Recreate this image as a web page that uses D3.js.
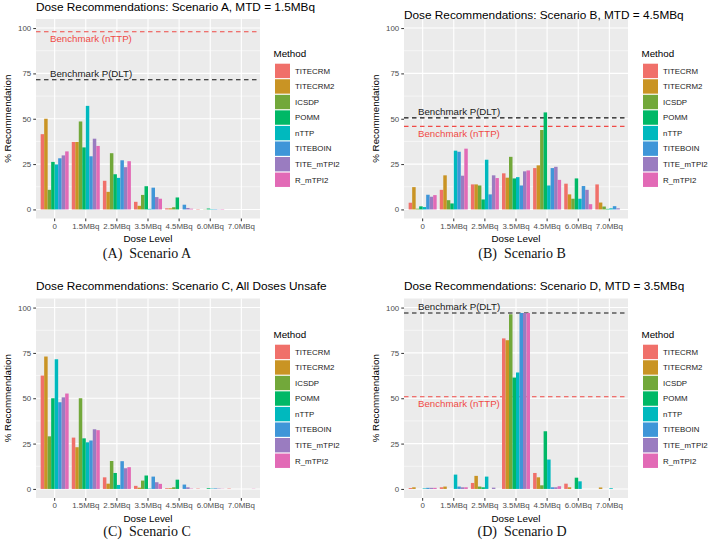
<!DOCTYPE html>
<html>
<head>
<meta charset="utf-8">
<script src="https://cdn.jsdelivr.net/npm/d3@7"></script>
<style>
html,body{margin:0;padding:0;background:#fff;}
svg{display:block;}
</style>
</head>
<body>
<svg id="chart" width="709" height="546" font-family='"Liberation Sans",Arial,Helvetica,sans-serif'></svg>
<script>
// ---------- data ----------
const doses = ["0","1.5MBq","2.5MBq","3.5MBq","4.5MBq","6.0MBq","7.0MBq"];
const methods = ["TITECRM","TITECRM2","ICSDP","POMM","nTTP","TITEBOIN","TITE_mTPI2","R_mTPI2"];
const methodColors = ["#F0706A","#C99424","#72A83A","#00B866","#00B9BE","#3F96D8","#9A7CC0","#E26AB6"];
const yTicks = [0,25,50,75,100];

const titles = [
  "Dose Recommendations: Scenario A, MTD = 1.5MBq",
  "Dose Recommendations: Scenario B, MTD = 4.5MBq",
  "Dose Recommendations: Scenario C, All Doses Unsafe",
  "Dose Recommendations: Scenario D, MTD = 3.5MBq"
];
const captions = ["(A)  Scenario A","(B)  Scenario B","(C)  Scenario C","(D)  Scenario D"];

// values[method][dose]
const valuesA = [
  [41.5,37.2,15.8,4.2,0.6,0.2,0],
  [50,37.2,9.7,2,0.6,0,0],
  [10.8,48.5,31,8,1.2,0.1,0],
  [26.2,34.2,19.4,12.8,6.6,0.5,0],
  [24.8,57.1,17.4,0.3,0,0.2,0],
  [28.2,29.3,27.1,12,2.6,0.2,0],
  [29.8,39,23.3,6.8,0.8,0.1,0],
  [32,35,26.6,5.9,0.4,0.2,0]
];
const valuesB = [
  [3.7,10.8,13.8,19.9,22.8,14.2,13.8],
  [12.3,18.8,13.8,17.5,24.3,8.3,3.8],
  [0.4,5.1,13.2,29,43.8,5.9,1.6],
  [1.7,3.3,5.5,17.1,53.5,17.1,0.3],
  [1.3,32.4,27.4,17.8,13.2,5.9,0.6],
  [8.1,31.8,8.3,13.2,22.8,12.9,1.8],
  [7,18.6,18.8,21,23.5,10.8,0.6],
  [7.9,33.5,17.3,21.5,16.3,2.9,0]
];
const valuesC = [
  [62.5,28.3,6.4,1.7,0.4,0.2,0.2],
  [73,23,2.9,0.7,0.4,0,0],
  [29,50,15.4,4.6,0.9,0,0],
  [50,27.9,8.8,7.4,5.1,0.4,0],
  [71.5,25.7,2.2,0.2,0,0.2,0],
  [47.8,26.7,15.3,6.8,2.4,0.3,0],
  [50.5,32.9,11.4,3.7,0.9,0.2,0],
  [52.6,32.4,12,2.8,0.2,0.1,0.1]
];
const valuesD = [
  [0.5,0.9,3.3,83,8.8,2.9,0],
  [0.9,1.3,7.2,82,6.4,0.9,0.8],
  [0,0,1.3,96.3,2,0,0],
  [0,0,0.9,61.4,31.8,6.2,0],
  [0.3,7.9,6.8,64.2,16.2,4.2,0.4],
  [0.6,1.3,0,97,0.9,0,0],
  [0.6,0.9,0.7,97,0.9,0,0],
  [0.6,0.9,0,97,1.5,0,0]
];
// benchmark lines (null = none)
const benchDLT  = [71.5, 50.5, null, 97];
const benchNTTP = [98, 45.8, null, 50.8];

// ---------- layout ----------
const panels = [
  {vals: valuesA, left: 36,  right: 260, top: 19,    bottom: 218.5, titleY: 11,  capX: 147, capY: 258, legX: 275, legY: 0},
  {vals: valuesB, left: 404, right: 628, top: 19,    bottom: 218.5, titleY: 18.5,capX: 522, capY: 258, legX: 643, legY: 0},
  {vals: valuesC, left: 36,  right: 260, top: 298.5, bottom: 498,   titleY: 290, capX: 147, capY: 536, legX: 275, legY: 281},
  {vals: valuesD, left: 404, right: 628, top: 298.5, bottom: 498,   titleY: 290, capX: 522, capY: 536, legX: 643, legY: 281}
];

const svg = d3.select("#chart");
const sans = '"Liberation Sans",Arial,Helvetica,sans-serif';

panels.forEach((p, pi) => {
  const g = svg.append("g");
  const x = d3.scaleBand().domain(doses).range([p.left, p.right]).paddingInner(0.1).paddingOuter(0.15);
  const xm = d3.scaleBand().domain(methods).range([0, x.bandwidth()]).padding(0);
  const xc = d3.scaleLinear().domain([0.4, 7.6]).range([p.left, p.right]);
  const y = d3.scaleLinear().domain([-5, 105]).range([p.bottom, p.top]);

  // panel background
  g.append("rect").attr("x", p.left).attr("y", p.top)
    .attr("width", p.right - p.left).attr("height", p.bottom - p.top).attr("fill", "#EBEBEB");
  // minor grid
  g.selectAll(".minor").data([12.5,37.5,62.5,87.5]).enter().append("line")
    .attr("x1", p.left).attr("x2", p.right).attr("y1", d => y(d)).attr("y2", d => y(d))
    .attr("stroke", "#fff").attr("stroke-width", 0.55);
  // major grid
  g.selectAll(".majory").data(yTicks).enter().append("line")
    .attr("x1", p.left).attr("x2", p.right).attr("y1", d => y(d)).attr("y2", d => y(d))
    .attr("stroke", "#fff").attr("stroke-width", 1.1);
  g.selectAll(".majorx").data(doses).enter().append("line")
    .attr("x1", d => x(d) + x.bandwidth()/2).attr("x2", d => x(d) + x.bandwidth()/2)
    .attr("y1", p.top).attr("y2", p.bottom)
    .attr("stroke", "#fff").attr("stroke-width", 1.1);

  // benchmark lines and labels
  const bench = [];
  if (benchNTTP[pi] !== null) bench.push({v: benchNTTP[pi], col: "#F04A46", tcol: "#F04A46", label: "Benchmark (nTTP)", off: -4});
  if (benchDLT[pi] !== null) bench.push({v: benchDLT[pi], col: "#111", tcol: "#1a1a1a", label: "Benchmark P(DLT)", off: 3.4});
  bench.forEach(b => {
    g.append("line").attr("x1", p.left).attr("x2", p.right)
      .attr("y1", y(b.v)).attr("y2", y(b.v))
      .attr("stroke", b.col).attr("stroke-width", 1.1).attr("stroke-dasharray", "4.5,3.5");
    g.append("text").attr("x", xc(0.85)).attr("y", y(b.v + b.off)).attr("dy", "0.35em")
      .attr("font-size", 9.7).attr("fill", b.tcol).text(b.label);
  });

  // bars
  methods.forEach((m, mi) => {
    g.append("g").selectAll("rect").data(doses).enter().append("rect")
      .attr("x", d => x(d) + xm(m))
      .attr("width", xm.bandwidth())
      .attr("y", (d, di) => y(p.vals[mi][di]))
      .attr("height", (d, di) => y(0) - y(p.vals[mi][di]))
      .attr("fill", methodColors[mi]);
  });

  // axes
  const yAxis = d3.axisLeft(y).tickValues(yTicks).tickSize(2.75).tickPadding(2);
  const ya = g.append("g").attr("transform", `translate(${p.left},0)`).call(yAxis);
  const xAxis = d3.axisBottom(x).tickSize(2.75).tickPadding(2);
  const xa = g.append("g").attr("transform", `translate(0,${p.bottom})`).call(xAxis);
  [ya, xa].forEach(a => {
    a.attr("font-family", sans);
    a.select(".domain").remove();
    a.selectAll(".tick line").attr("stroke", "#333").attr("stroke-width", 1);
    a.selectAll(".tick text").attr("fill", "#4D4D4D").attr("font-size", 7.9);
  });

  // titles
  g.append("text").attr("x", p.left).attr("y", p.titleY).attr("font-size", 11.8).attr("fill", "#000").text(titles[pi]);
  g.append("text").attr("x", (p.left + p.right)/2).attr("y", p.bottom + 23.5)
    .attr("text-anchor", "middle").attr("font-size", 9.8).text("Dose Level");
  g.append("text").attr("transform", `translate(${p.left - 28.5},${(p.top + p.bottom)/2}) rotate(-90)`)
    .attr("text-anchor", "middle").attr("dy", "0.35em").attr("font-size", 9.8).text("% Recommendation");

  // legend
  const lg = g.append("g").attr("transform", `translate(${p.legX},${p.legY})`);
  lg.append("text").attr("x", -1.5).attr("y", 56.8).attr("font-size", 9.8).text("Method");
  methods.forEach((m, mi) => {
    lg.append("rect").attr("x", 0).attr("y", 63.7 + mi*15.55).attr("width", 15).attr("height", 14.4)
      .attr("fill", methodColors[mi]);
    lg.append("text").attr("x", 20).attr("y", 63.7 + mi*15.55 + 7.2).attr("dy", "0.35em")
      .attr("font-size", 7.9).attr("fill", "#1a1a1a").text(m);
  });

  // caption
  svg.append("text").attr("x", p.capX).attr("y", p.capY).attr("text-anchor", "middle")
    .attr("font-family", '"Liberation Serif","Times New Roman",serif').attr("font-size", 14)
    .attr("fill", "#111").style("white-space", "pre").text(captions[pi]);
});
</script>
</body>
</html>
